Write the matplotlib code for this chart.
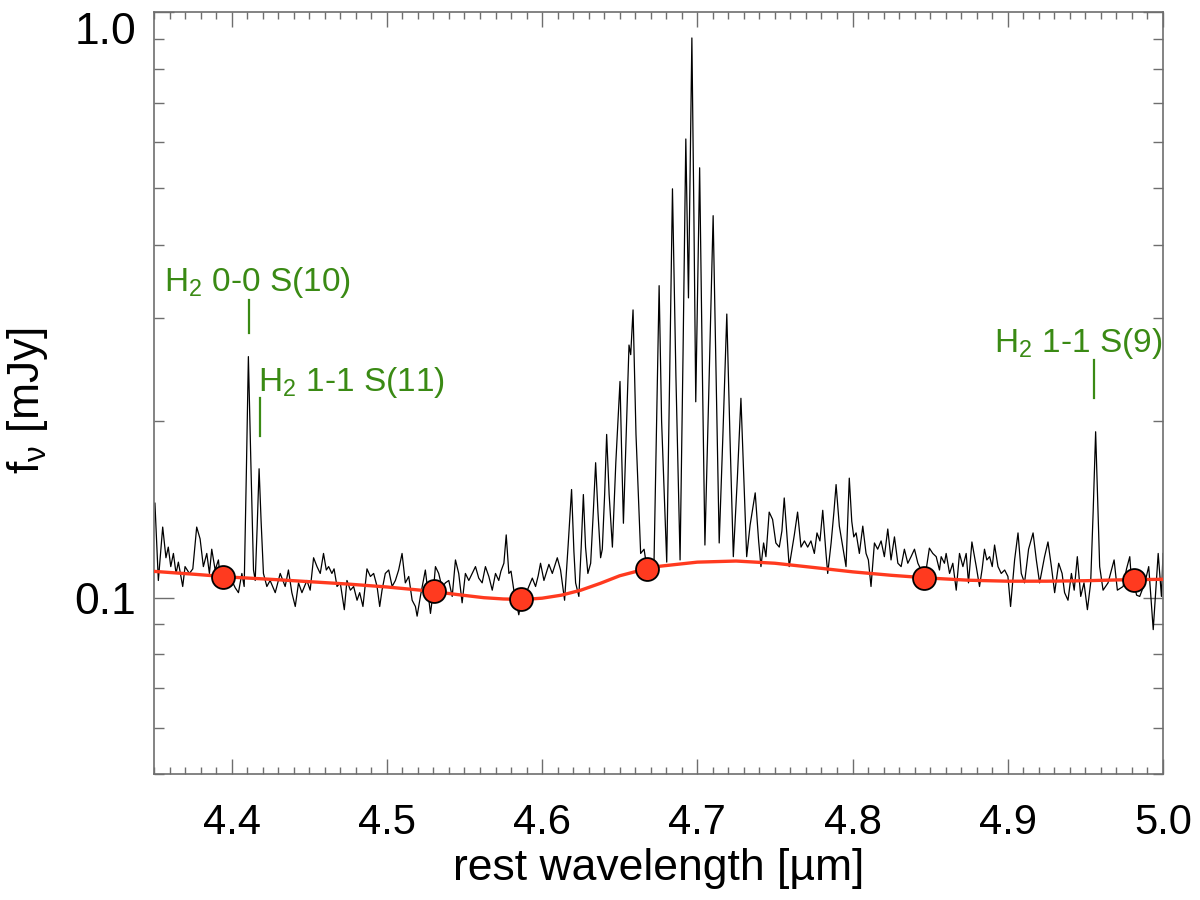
"""
Spectrum around 4.4-5.0 micron with CO band and H2 lines,
plus the spline continuum through the anchor points.
"""

import matplotlib

matplotlib.use("Agg")
import matplotlib.pyplot as plt
from matplotlib.ticker import FixedLocator, MultipleLocator, NullFormatter, FormatStrFormatter

plt.rcParams["font.family"] = ["Liberation Sans", "DejaVu Sans"]
plt.rcParams["mathtext.default"] = "regular"

wavelength = [
    4.3506, 4.3528, 4.3556, 4.3577, 4.3592, 4.3608, 4.3625, 4.3642, 4.3657, 4.3685,
    4.3700, 4.3728, 4.3750, 4.3775, 4.3797, 4.3818, 4.3840, 4.3857, 4.3872, 4.3894,
    4.3915, 4.3930, 4.3947, 4.3965, 4.4001, 4.4023, 4.4044, 4.4066, 4.4081, 4.4095,
    4.4108, 4.4124, 4.4141, 4.4152, 4.4165, 4.4177, 4.4190, 4.4205, 4.4227, 4.4248,
    4.4281, 4.4313, 4.4345, 4.4366, 4.4388, 4.4410, 4.4431, 4.4453, 4.4485, 4.4506,
    4.4528, 4.4550, 4.4571, 4.4592, 4.4610, 4.4625, 4.4646, 4.4660, 4.4679, 4.4700,
    4.4726, 4.4743, 4.4765, 4.4786, 4.4808, 4.4825, 4.4846, 4.4872, 4.4894, 4.4915,
    4.4937, 4.4954, 4.4969, 4.4990, 4.5012, 4.5034, 4.5055, 4.5076, 4.5098, 4.5119,
    4.5141, 4.5163, 4.5184, 4.5195, 4.5216, 4.5248, 4.5281, 4.5300, 4.5313, 4.5334,
    4.5356, 4.5377, 4.5399, 4.5421, 4.5442, 4.5463, 4.5485, 4.5506, 4.5528, 4.5550,
    4.5571, 4.5592, 4.5614, 4.5635, 4.5657, 4.5679, 4.5700, 4.5721, 4.5735, 4.5754,
    4.5769, 4.5786, 4.5800, 4.5818, 4.5850, 4.5866, 4.5885, 4.5905, 4.5937, 4.5958,
    4.5975, 4.5990, 4.6012, 4.6044, 4.6066, 4.6098, 4.6119, 4.6145, 4.6168, 4.6190,
    4.6205, 4.6216, 4.6237, 4.6252, 4.6266, 4.6280, 4.6295, 4.6313, 4.6330, 4.6345,
    4.6360, 4.6377, 4.6388, 4.6403, 4.6416, 4.6432, 4.6453, 4.6475, 4.6502, 4.6513,
    4.6524, 4.6542, 4.6560, 4.6571, 4.6586, 4.6605, 4.6635, 4.6657, 4.6674, 4.6700,
    4.6721, 4.6738, 4.6754, 4.6770, 4.6803, 4.6822, 4.6840, 4.6862, 4.6889, 4.6908,
    4.6926, 4.6943, 4.6965, 4.6978, 4.6990, 4.7015, 4.7032, 4.7049, 4.7075, 4.7102,
    4.7122, 4.7141, 4.7165, 4.7190, 4.7210, 4.7232, 4.7258, 4.7281, 4.7300, 4.7318,
    4.7340, 4.7373, 4.7395, 4.7410, 4.7427, 4.7442, 4.7463, 4.7485, 4.7506, 4.7528,
    4.7545, 4.7560, 4.7592, 4.7625, 4.7646, 4.7668, 4.7690, 4.7711, 4.7732, 4.7754,
    4.7771, 4.7790, 4.7808, 4.7829, 4.7840, 4.7862, 4.7880, 4.7894, 4.7915, 4.7937,
    4.7958, 4.7979, 4.7995, 4.8008, 4.8023, 4.8044, 4.8066, 4.8087, 4.8102, 4.8119,
    4.8141, 4.8162, 4.8184, 4.8205, 4.8227, 4.8248, 4.8270, 4.8292, 4.8313, 4.8334,
    4.8356, 4.8377, 4.8399, 4.8421, 4.8442, 4.8459, 4.8475, 4.8495, 4.8517, 4.8539,
    4.8560, 4.8571, 4.8592, 4.8603, 4.8625, 4.8646, 4.8668, 4.8689, 4.8711, 4.8732,
    4.8747, 4.8769, 4.8797, 4.8818, 4.8835, 4.8850, 4.8865, 4.8883, 4.8900, 4.8915,
    4.8937, 4.8958, 4.8980, 4.9001, 4.9018, 4.9044, 4.9066, 4.9087, 4.9108, 4.9134,
    4.9163, 4.9184, 4.9205, 4.9237, 4.9259, 4.9281, 4.9302, 4.9328, 4.9350, 4.9366,
    4.9388, 4.9410, 4.9428, 4.9448, 4.9470, 4.9491, 4.9513, 4.9534, 4.9550, 4.9566,
    4.9580, 4.9592, 4.9614, 4.9646, 4.9685, 4.9706, 4.9743, 4.9765, 4.9786, 4.9800,
    4.9812, 4.9830, 4.9850, 4.9883, 4.9908, 4.9937, 4.9969, 4.9990, 5.0000,
]
flux = [
    0.145, 0.107, 0.132, 0.117, 0.122, 0.113, 0.119, 0.110, 0.115, 0.1045,
    0.113, 0.110, 0.112, 0.132, 0.126, 0.113, 0.119, 0.110, 0.121, 0.1115,
    0.116, 0.106, 0.109, 0.104, 0.107, 0.104, 0.102, 0.110, 0.1045, 0.164,
    0.258, 0.170, 0.1115, 0.107, 0.133, 0.166, 0.135, 0.110, 0.1045, 0.107,
    0.102, 0.110, 0.1045, 0.1115, 0.102, 0.0966, 0.106, 0.102, 0.107, 0.103,
    0.117, 0.113, 0.110, 0.119, 0.1115, 0.113, 0.110, 0.112, 0.1045, 0.106,
    0.0954, 0.107, 0.103, 0.1045, 0.099, 0.102, 0.0966, 0.112, 0.1087, 0.110,
    0.1045, 0.0966, 0.103, 0.110, 0.1115, 0.1045, 0.107, 0.1115, 0.119, 0.106,
    0.1087, 0.099, 0.0966, 0.093, 0.1005, 0.1115, 0.094, 0.103, 0.113, 0.110,
    0.104, 0.106, 0.107, 0.1005, 0.116, 0.110, 0.098, 0.110, 0.107, 0.110,
    0.113, 0.108, 0.106, 0.113, 0.1087, 0.103, 0.110, 0.107, 0.111, 0.1145,
    0.128, 0.110, 0.111, 0.103, 0.0935, 0.099, 0.101, 0.103, 0.108, 0.1045,
    0.109, 0.1145, 0.107, 0.114, 0.110, 0.117, 0.1115, 0.099, 0.123, 0.153,
    0.120, 0.106, 0.1005, 0.122, 0.150, 0.122, 0.110, 0.1145, 0.140, 0.170,
    0.140, 0.117, 0.121, 0.150, 0.190, 0.150, 0.122, 0.170, 0.234, 0.175,
    0.134, 0.190, 0.270, 0.260, 0.310, 0.190, 0.119, 0.121, 0.113, 0.116,
    0.1145, 0.200, 0.341, 0.200, 0.115, 0.240, 0.499, 0.240, 0.116, 0.260,
    0.607, 0.325, 0.903, 0.450, 0.216, 0.542, 0.250, 0.123, 0.230, 0.449,
    0.230, 0.124, 0.190, 0.305, 0.190, 0.1175, 0.160, 0.219, 0.160, 0.1175,
    0.133, 0.151, 0.125, 0.113, 0.124, 0.1175, 0.140, 0.136, 0.124, 0.122,
    0.130, 0.148, 0.113, 0.128, 0.140, 0.122, 0.125, 0.122, 0.125, 0.119,
    0.129, 0.125, 0.141, 0.119, 0.110, 0.124, 0.140, 0.156, 0.1325, 0.122,
    0.113, 0.160, 0.135, 0.127, 0.129, 0.119, 0.1325, 0.119, 0.116, 0.1045,
    0.124, 0.121, 0.125, 0.1175, 0.131, 0.116, 0.127, 0.1145, 0.113, 0.121,
    0.1145, 0.1175, 0.121, 0.1145, 0.1115, 0.108, 0.112, 0.1215, 0.119, 0.1175,
    0.1115, 0.1175, 0.1145, 0.119, 0.110, 0.1145, 0.103, 0.119, 0.113, 0.119,
    0.106, 0.1245, 0.113, 0.1045, 0.112, 0.121, 0.116, 0.1175, 0.113, 0.123,
    0.113, 0.110, 0.1115, 0.1087, 0.0966, 0.116, 0.129, 0.110, 0.106, 0.121,
    0.129, 0.116, 0.106, 0.1175, 0.1245, 0.113, 0.102, 0.1145, 0.110, 0.102,
    0.099, 0.110, 0.103, 0.1175, 0.1005, 0.106, 0.0954, 0.106, 0.140, 0.192,
    0.145, 0.113, 0.103, 0.106, 0.116, 0.103, 0.1045, 0.112, 0.1175, 0.104,
    0.106, 0.101, 0.1005, 0.106, 0.113, 0.0882, 0.119, 0.1005, 0.119,
]

# continuum curve (sampled off the red line)
cont_wave = [
    4.350, 4.375, 4.400, 4.425, 4.450, 4.475, 4.500, 4.525, 4.550, 4.5625,
    4.575, 4.5875, 4.600, 4.6125, 4.625, 4.6375, 4.650, 4.6625, 4.675, 4.700,
    4.725, 4.750, 4.775, 4.800, 4.825, 4.850, 4.875, 4.900, 4.925, 4.950,
    4.975, 5.000,
]
cont_flux = [
    0.1109, 0.1097, 0.1084, 0.1075, 0.1065, 0.1055, 0.1043, 0.1028, 0.1009, 0.1000,
    0.0995, 0.0993, 0.0998, 0.1010, 0.1030, 0.1058, 0.1090, 0.1112, 0.1131, 0.1150,
    0.1155, 0.1145, 0.1126, 0.1107, 0.1092, 0.1080, 0.1071, 0.1067, 0.1067, 0.1069,
    0.1073, 0.1075,
]

# anchor points of the continuum fit
anchor_wave = [4.3947, 4.5302, 4.5866, 4.6674, 4.8459, 4.9812]
anchor_flux = [0.1085, 0.1025, 0.0993, 0.1120, 0.1080, 0.1072]

# H2 line labels: text, text x, text baseline y, marker x, marker y0, marker y1
h2_labels = [
    ("H$_2$ 0-0 S(10)", 4.3565, 0.334, 4.4115, 0.3225, 0.2836),
    ("H$_2$ 1-1 S(11)", 4.4173, 0.225, 4.4180, 0.2194, 0.1885),
    ("H$_2$ 1-1 S(9)", 4.8913, 0.263, 4.9558, 0.2547, 0.2194),
]

GREEN = "#3a8a14"
RED = "#ff3a1f"
GREY = "#6e6e6e"

fig = plt.figure(figsize=(12, 9), dpi=100)
ax = fig.add_axes([154 / 1200, 1 - 774 / 900, 1009 / 1200, 762 / 900])

ax.plot(wavelength, flux, color="black", linewidth=0.9, zorder=2)
ax.plot(cont_wave, cont_flux, color=RED, linewidth=2.4, zorder=3)
ax.plot(anchor_wave, anchor_flux, "o", color=RED, markersize=16.5,
        markeredgecolor="black", markeredgewidth=1.3, zorder=4)

for text, tx, ty, lx, ly0, ly1 in h2_labels:
    ax.text(tx, ty, text, color=GREEN, fontsize=24, va="baseline", ha="left")
    ax.plot([lx, lx], [ly0, ly1], color=GREEN, linewidth=1.6)

ax.set_yscale("log")
ax.set_xlim(4.35, 5.0)
ax.set_ylim(0.05, 1.0)

ax.xaxis.set_major_locator(MultipleLocator(0.1))
ax.xaxis.set_minor_locator(MultipleLocator(0.01))
ax.xaxis.set_major_formatter(FormatStrFormatter("%.1f"))
ax.yaxis.set_major_locator(FixedLocator([0.1, 1.0]))
ax.yaxis.set_major_formatter(FormatStrFormatter("%.1f"))
ax.yaxis.set_minor_formatter(NullFormatter())
ax.set_yticklabels(["0.1", "1.0"])

ax.tick_params(which="both", direction="in", top=True, right=True,
               color=GREY, width=1.0, labelcolor="black")
ax.tick_params(axis="x", which="major", length=10.8, labelsize=30, pad=21)
ax.tick_params(axis="x", which="minor", length=5)
ax.tick_params(axis="y", which="major", length=14.4, labelsize=32, pad=13)
ax.tick_params(axis="y", which="minor", length=7.2)

# top label sits just below the frame edge, as in the original
for lab in ax.get_yticklabels():
    if lab.get_text() == "1.0":
        lab.set_va("top")

for sp in ax.spines.values():
    sp.set_color(GREY)
    sp.set_linewidth(1.2)

ax.set_xlabel("rest wavelength [µm]", fontsize=32)
ax.xaxis.label.set_va("baseline")
ax.xaxis.set_label_coords(0.5, (774 - 880) / 762)
ax.set_ylabel("f$_ν$ [mJy]", fontsize=32)
ax.yaxis.set_label_coords((50 - 154) / 1009, 0.49)

fig.savefig("out.png", dpi=100)
